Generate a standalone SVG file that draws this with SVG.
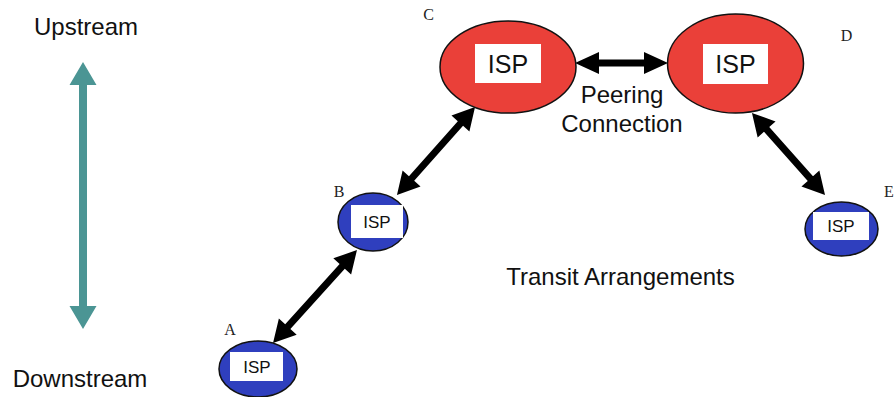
<svg xmlns="http://www.w3.org/2000/svg" width="896" height="397" viewBox="0 0 896 397">
<style>
.t{font-family:"Liberation Sans",Arial,sans-serif;fill:#111;text-anchor:middle}
.big{font-size:24px}
.lbl{font-family:"Liberation Serif","Times New Roman",serif;font-size:16px;fill:#222;text-anchor:middle}
.red{fill:#EA4039;stroke:#111;stroke-width:1.5}
.blue{fill:#2F3FBE;stroke:#111;stroke-width:1.5}
.box{fill:#fff}
.isp1{font-size:25px}
.isp2{font-size:17px}
.arr{fill:#000}
</style>
<rect width="896" height="397" fill="#fff"/>
<g id="legend">
<text class="t big" x="86" y="35">Upstream</text>
<path d="M83,62 L96.5,85 L87,85 L87,306 L96.5,306 L83,329 L69.5,306 L79,306 L79,85 L69.5,85 Z" fill="#4B9594"/>
<text class="t big" x="80" y="387">Downstream</text>
</g>
<g id="connectors">
<path class="arr" transform="translate(621.5,63)" d="M-46.5,0 L-22.5,-11 L-22.5,-3.5 L22.5,-3.5 L22.5,-11 L46.5,0 L22.5,11 L22.5,3.5 L-22.5,3.5 L-22.5,11 Z"/>
<path class="arr" transform="translate(315,296.5) rotate(-47.9)" d="M-62.6,0 L-40.6,-12 L-40.6,-3.5 L40.6,-3.5 L40.6,-12 L62.6,0 L40.6,12 L40.6,3.5 L-40.6,3.5 L-40.6,12 Z"/>
<path class="arr" transform="translate(436,151) rotate(-48.4)" d="M-58.8,0 L-36.8,-12 L-36.8,-3.5 L36.8,-3.5 L36.8,-12 L58.8,0 L36.8,12 L36.8,3.5 L-36.8,3.5 L-36.8,12 Z"/>
<path class="arr" transform="translate(788.5,154) rotate(48.3)" d="M-54.9,0 L-32.9,-12 L-32.9,-3.5 L32.9,-3.5 L32.9,-12 L54.9,0 L32.9,12 L32.9,3.5 L-32.9,3.5 L-32.9,12 Z"/>
<text class="t big" x="622" y="103">Peering</text>
<text class="t big" x="622" y="132">Connection</text>
<text class="t big" x="620.5" y="285">Transit Arrangements</text>
</g>
<g id="nodeC">
<ellipse class="red" cx="508" cy="67" rx="68" ry="46"/>
<rect class="box" x="475" y="44" width="66" height="39"/>
<text class="t isp1" x="508" y="72.5">ISP</text>
<text class="lbl" x="428.5" y="20">C</text>
</g>
<g id="nodeD">
<ellipse class="red" cx="735.5" cy="63.5" rx="68" ry="49.5"/>
<rect class="box" x="703" y="44" width="65" height="40"/>
<text class="t isp1" x="735.5" y="73">ISP</text>
<text class="lbl" x="846.5" y="41">D</text>
</g>
<g id="nodeB">
<ellipse class="blue" cx="373" cy="222" rx="35" ry="29"/>
<rect class="box" x="351" y="205" width="52" height="33"/>
<text class="t isp2" x="377" y="227.5">ISP</text>
<text class="lbl" x="339" y="197">B</text>
</g>
<g id="nodeA">
<ellipse class="blue" cx="258" cy="369" rx="39" ry="28"/>
<rect class="box" x="230" y="352" width="53" height="29"/>
<text class="t isp2" x="257" y="372.5">ISP</text>
<text class="lbl" x="230" y="335">A</text>
</g>
<g id="nodeE">
<ellipse class="blue" cx="841.5" cy="229" rx="36.5" ry="27"/>
<rect class="box" x="813" y="212" width="56" height="28"/>
<text class="t isp2" x="841" y="232">ISP</text>
<text class="lbl" x="889" y="197">E</text>
</g>
</svg>
